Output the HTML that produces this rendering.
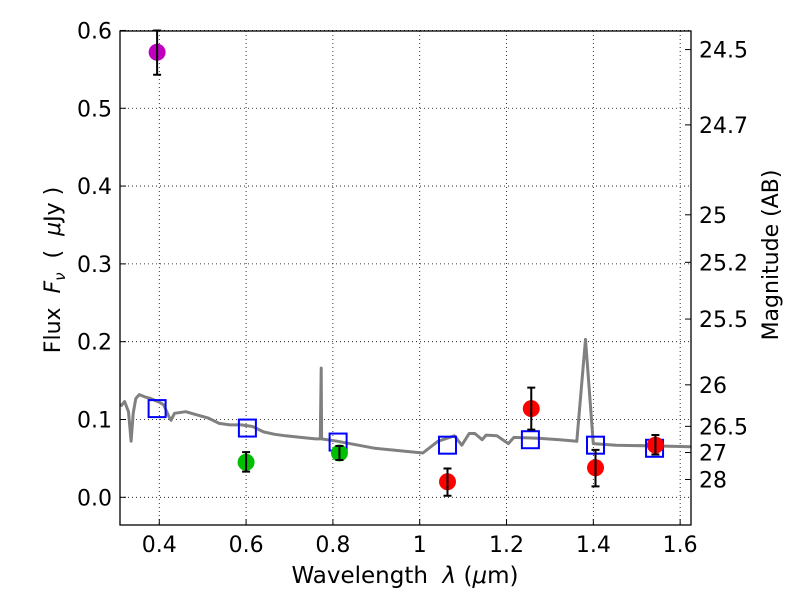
<!DOCTYPE html>
<html><head><meta charset="utf-8"><style>
html,body{margin:0;padding:0;background:#fff;}
svg text{font-family:"DejaVu Sans","Liberation Sans",sans-serif;fill:#000;}
</style></head><body>
<svg id="chart" width="800" height="600" xmlns="http://www.w3.org/2000/svg">
<g id="grid"></g>
<g id="spec"></g>
<g id="marks"></g>
<rect x="120" y="31" width="571" height="494" fill="none" stroke="#000" stroke-width="1.3"/>
<g id="axes"></g>
<text x="405" y="583" font-size="23" text-anchor="middle" xml:space="preserve">Wavelength  <tspan font-style="italic">λ</tspan> (<tspan font-style="italic">μ</tspan>m)</text>
<text transform="translate(60,270) rotate(-90)" font-size="22" text-anchor="middle" xml:space="preserve">Flux  <tspan font-style="italic">F</tspan><tspan font-style="italic" font-size="15" dy="5">ν</tspan><tspan dy="-5">  (  </tspan><tspan font-style="italic">μ</tspan>Jy )</text>
<text transform="translate(778,255) rotate(-90)" font-size="22" text-anchor="middle">Magnitude (AB)</text>
</svg>
<script>
const xTicks=[0.4,0.6,0.8,1.0,1.2,1.4,1.6];
const xTickLabels=["0.4","0.6","0.8","1","1.2","1.4","1.6"];
const yTicks=[0.0,0.1,0.2,0.3,0.4,0.5,0.6];
const yTickLabels=["0.0","0.1","0.2","0.3","0.4","0.5","0.6"];
const magTicks=[24.5,24.7,25,25.2,25.5,26,26.5,27,28];
const magTickLabels=["24.5","24.7","25","25.2","25.5","26","26.5","27","28"];
const specX=[0.311,0.320,0.329,0.335,0.340,0.346,0.354,0.367,0.380,0.397,0.410,0.422,0.427,0.435,0.461,0.486,0.512,0.538,0.563,0.589,0.615,0.640,0.666,0.691,0.726,0.760,0.771,0.773,0.774,0.811,0.897,1.007,1.042,1.080,1.097,1.114,1.127,1.144,1.153,1.178,1.204,1.217,1.272,1.323,1.362,1.382,1.400,1.452,1.537,1.626];
const specY=[0.117,0.123,0.110,0.072,0.108,0.127,0.132,0.129,0.127,0.123,0.119,0.104,0.099,0.108,0.110,0.106,0.102,0.095,0.093,0.093,0.091,0.084,0.081,0.079,0.077,0.075,0.075,0.166,0.075,0.072,0.063,0.057,0.072,0.079,0.067,0.082,0.082,0.074,0.080,0.079,0.069,0.077,0.076,0.074,0.072,0.203,0.069,0.067,0.066,0.065];
const obsX=[0.395,0.600,0.815,1.064,1.257,1.405,1.543];
const obsY=[0.572,0.045,0.057,0.020,0.114,0.038,0.067];
const obsLo=[0.543,0.033,0.048,0.002,0.087,0.014,0.055];
const obsHi=[0.600,0.058,0.066,0.037,0.141,0.061,0.080];
const obsColor=["#bf00bf","#00bf00","#00bf00","#ff0000","#ff0000","#ff0000","#ff0000"];
const modX=[0.395,0.603,0.812,1.064,1.255,1.405,1.541];
const modY=[0.114,0.089,0.071,0.067,0.074,0.067,0.063];

const NS="http://www.w3.org/2000/svg";
const X0=120,X1=691,Y0=31,Y1=525;
const xmin=0.3095,xmax=1.625,ymin=-0.0356,ymax=0.5993;
function sx(v){return X0+(v-xmin)/(xmax-xmin)*(X1-X0);}
function sy(v){return Y1-(v-ymin)/(ymax-ymin)*(Y1-Y0);}
function mk(tag,attrs,parent){const e=document.createElementNS(NS,tag);for(const k in attrs)e.setAttribute(k,attrs[k]);parent.appendChild(e);return e;}
const grid=document.getElementById('grid'),axes=document.getElementById('axes'),spec=document.getElementById('spec'),marks=document.getElementById('marks');
xTicks.forEach((t,i)=>{
  const x=sx(t);
  const g=mk('line',{x1:x,x2:x,y1:Y0,y2:Y1,stroke:'#000','stroke-dasharray':'1,3','stroke-width':0.8},grid);
  
  
  const tk=mk('line',{x1:x,x2:x,y1:Y1,y2:Y1-6,stroke:'#000'},axes);
  
  
  const lb=mk('text',{x:x,y:552,'font-size':22,'text-anchor':'middle'},axes);
  lb.textContent=xTickLabels[i];
  
  
});
yTicks.forEach((t,i)=>{
  const y=sy(t);
  const g=mk('line',{x1:X0,x2:X1,y1:y,y2:y,stroke:'#000','stroke-dasharray':'1,3','stroke-width':0.8},grid);
  
  
  const tk=mk('line',{x1:X0,x2:X0+6,y1:y,y2:y,stroke:'#000'},axes);
  
  
  const lb=mk('text',{x:112,y:y+8,'font-size':22,'text-anchor':'end'},axes);
  lb.textContent=yTickLabels[i];
  
  
});
magTicks.forEach((m,i)=>{
  const y=sy(Math.pow(10,(23.9-m)/2.5));
  const tk=mk('line',{x1:X1-6,x2:X1,y1:y,y2:y,stroke:'#000'},axes);
  
  
  const lb=mk('text',{x:699,y:y+8,'font-size':22},axes);
  lb.textContent=magTickLabels[i];
  
  
});
const pts=specX.map((v,i)=>sx(v).toFixed(1)+','+sy(specY[i]).toFixed(1)).join(' ');
const pl=mk('polyline',{points:pts,fill:'none',stroke:'#808080','stroke-width':3,'stroke-linejoin':'round'},spec);


modX.forEach((v,i)=>{
  const r=mk('rect',{x:sx(v)-8.5,y:sy(modY[i])-8.5,width:17,height:17,fill:'none',stroke:'#0000ff','stroke-width':2},marks);
  
  
});
obsX.forEach((v,i)=>{
  const x=sx(v);
  const c=mk('circle',{cx:x,cy:sy(obsY[i]),r:8.5,fill:obsColor[i]},marks);
  
  
  const e=mk('path',{d:`M${x},${sy(obsLo[i])}V${sy(obsHi[i])}M${x-4},${sy(obsLo[i])}h8M${x-4},${sy(obsHi[i])}h8`,stroke:'#000','stroke-width':2,fill:'none'},marks);
  
  
});
</script>
</body></html>
